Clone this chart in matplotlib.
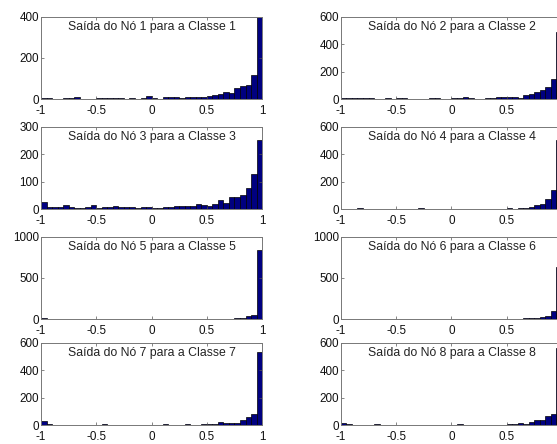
import numpy as np
import matplotlib
matplotlib.use("Agg")
from matplotlib import pyplot as plt

plt.rcParams['font.family'] = ['Liberation Sans', 'DejaVu Sans']

# histogram counts, 40 bins from -1 to 1
no1 = [8, 6, 3, 3, 7, 8, 9, 3, 3, 3, 5, 5, 5, 5, 5, 3, 5, 3, 4, 15,
       8, 3, 10, 12, 12, 5, 12, 10, 10, 9, 17, 21, 26, 33, 30, 55, 63, 71, 116, 398]
no2 = [12, 10, 12, 10, 8, 8, 3, 3, 8, 5, 8, 8, 3, 3, 3, 5, 8, 8, 5, 5,
       8, 8, 14, 10, 5, 5, 10, 10, 14, 18, 15, 15, 12, 32, 37, 50, 70, 90, 145, 490]
no3 = [28, 10, 10, 10, 16, 10, 4, 3, 8, 15, 6, 8, 7, 11, 7, 8, 8, 6, 8, 8,
       4, 5, 8, 8, 11, 13, 12, 11, 19, 17, 12, 18, 34, 22, 46, 46, 52, 76, 130, 250]
no4 = [5, 5, 5, 8, 3, 3, 2, 2, 5, 5, 3, 5, 5, 3, 8, 5, 3, 5, 3, 5,
       3, 3, 3, 3, 3, 3, 3, 5, 5, 3, 8, 5, 8, 10, 20, 30, 35, 75, 140, 500]
no5 = [12, 3, 2, 2, 2, 2, 2, 2, 2, 2, 2, 2, 2, 2, 2, 2, 2, 2, 5, 3,
       2, 2, 0, 2, 2, 2, 2, 3, 3, 5, 5, 5, 5, 8, 8, 15, 20, 38, 50, 840]
no6 = [5, 3, 3, 5, 3, 2, 2, 2, 3, 5, 5, 3, 2, 2, 3, 3, 2, 2, 3, 5,
       5, 3, 2, 3, 5, 3, 3, 3, 5, 5, 5, 5, 8, 10, 15, 20, 25, 45, 95, 630]
no7 = [34, 10, 3, 3, 5, 3, 5, 5, 3, 5, 5, 8, 5, 3, 3, 3, 5, 3, 5, 5,
       3, 3, 8, 3, 3, 5, 10, 3, 5, 10, 10, 8, 25, 18, 18, 18, 40, 62, 85, 530]
no8 = [18, 8, 5, 5, 3, 5, 8, 3, 5, 3, 3, 3, 3, 5, 5, 3, 3, 5, 5, 5,
       5, 8, 3, 5, 3, 5, 3, 5, 5, 5, 8, 12, 15, 8, 25, 40, 38, 65, 85, 565]

series = [no1, no2, no3, no4, no5, no6, no7, no8]
ymax = [400, 600, 300, 600, 1000, 1000, 600, 600]
yticks = [[0, 200, 400], [0, 200, 400, 600], [0, 100, 200, 300], [0, 200, 400, 600],
          [0, 500, 1000], [0, 500, 1000], [0, 200, 400, 600], [0, 200, 400, 600]]
xticks = [-1, -0.5, 0, 0.5, 1]
xlabels = ['-1', '-0.5', '0', '0.5', '1']

edges = np.linspace(-1, 1, 41)
centers = (edges[:-1] + edges[1:]) / 2

fig = plt.figure(figsize=(5.57, 4.44), dpi=100)
lefts = [0.0736, 0.612]
bottoms = [0.7764, 0.5286, 0.2809, 0.042]
w = 0.397
h = 0.186

for i, counts in enumerate(series):
    row, col = i // 2, i % 2
    ax = fig.add_axes([lefts[col], bottoms[row], w, h])
    ax.bar(centers, counts, width=0.05, color='#000080', edgecolor='black', linewidth=0.5)
    ax.set_xlim(-1, 1)
    ax.set_ylim(0, ymax[i])
    ax.set_xticks(xticks)
    # right column runs past the edge of the picture, its "1" is not seen
    ax.set_xticklabels(xlabels if col == 0 else xlabels[:-1] + [''])
    ax.set_yticks(yticks[i])
    ax.tick_params(direction='in', length=2.5, width=0.5, labelsize=8.4, pad=1.5,
                   top=True, right=True, colors='#555555', labelcolor='#111111')
    ax.tick_params(axis='x', pad=4.0)
    for s in ax.spines.values():
        s.set_color('#777777')
        s.set_linewidth(0.7)
    ax.text(0.5, 0.88, 'Saída do Nó %d para a Classe %d' % (i + 1, i + 1),
            transform=ax.transAxes, ha='center', va='center', fontsize=8.8, color='#222222')

fig.savefig('out.png', dpi=100)
